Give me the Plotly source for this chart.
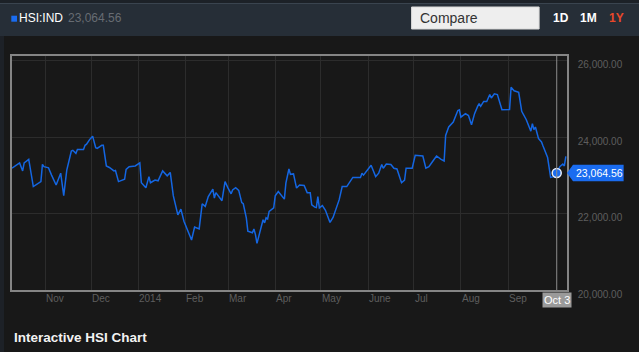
import plotly.graph_objects as go

# ---------------- data ----------------
dates = [
    "2013-10-10", "2013-10-13", "2013-10-15", "2013-10-17", "2013-10-18", "2013-10-21", "2013-10-22",
    "2013-10-24", "2013-10-29", "2013-10-30", "2013-10-31", "2013-11-03", "2013-11-05", "2013-11-08",
    "2013-11-11", "2013-11-13", "2013-11-15", "2013-11-18", "2013-11-19", "2013-11-21", "2013-11-22",
    "2013-11-26", "2013-11-27", "2013-11-28", "2013-11-30", "2013-12-02", "2013-12-04", "2013-12-05",
    "2013-12-08", "2013-12-09", "2013-12-11", "2013-12-13", "2013-12-16", "2013-12-17", "2013-12-19",
    "2013-12-20", "2013-12-23", "2013-12-24", "2013-12-26", "2013-12-30", "2014-01-02", "2014-01-03",
    "2014-01-06", "2014-01-08", "2014-01-09", "2014-01-12", "2014-01-14", "2014-01-17", "2014-01-20",
    "2014-01-22", "2014-01-24", "2014-01-27", "2014-01-29", "2014-01-31", "2014-02-05", "2014-02-07",
    "2014-02-10", "2014-02-12", "2014-02-14", "2014-02-16", "2014-02-19", "2014-02-20", "2014-02-21",
    "2014-02-25", "2014-02-27", "2014-03-01", "2014-03-03", "2014-03-04", "2014-03-06", "2014-03-08",
    "2014-03-10", "2014-03-11", "2014-03-13", "2014-03-14", "2014-03-17", "2014-03-18", "2014-03-19",
    "2014-03-20", "2014-03-22", "2014-03-24", "2014-03-25", "2014-03-26", "2014-03-27", "2014-03-28",
    "2014-03-31", "2014-04-01", "2014-04-03", "2014-04-07", "2014-04-08", "2014-04-10", "2014-04-11",
    "2014-04-13", "2014-04-15", "2014-04-17", "2014-04-20", "2014-04-22", "2014-04-24", "2014-04-25",
    "2014-04-27", "2014-04-28", "2014-04-29", "2014-04-30", "2014-05-02", "2014-05-04", "2014-05-07",
    "2014-05-09", "2014-05-13", "2014-05-15", "2014-05-18", "2014-05-20", "2014-05-22", "2014-05-27",
    "2014-05-28", "2014-05-29", "2014-06-03", "2014-06-06", "2014-06-08", "2014-06-10", "2014-06-11",
    "2014-06-13", "2014-06-16", "2014-06-18", "2014-06-20", "2014-06-23", "2014-06-25", "2014-06-26",
    "2014-06-30", "2014-07-02", "2014-07-07", "2014-07-09", "2014-07-11", "2014-07-14", "2014-07-16",
    "2014-07-19", "2014-07-21", "2014-07-22", "2014-07-24", "2014-07-27", "2014-07-30", "2014-07-31",
    "2014-08-01", "2014-08-04", "2014-08-06", "2014-08-08", "2014-08-10", "2014-08-12", "2014-08-13",
    "2014-08-14", "2014-08-16", "2014-08-18", "2014-08-20", "2014-08-21", "2014-08-23", "2014-08-25",
    "2014-08-28", "2014-09-02", "2014-09-03", "2014-09-05", "2014-09-08", "2014-09-10", "2014-09-13",
    "2014-09-16", "2014-09-17", "2014-09-18", "2014-09-19", "2014-09-21", "2014-09-23", "2014-09-24",
    "2014-09-27", "2014-09-29", "2014-10-01", "2014-10-03", "2014-10-05", "2014-10-07", "2014-10-08",
    "2014-10-09",
]
values = [
    23190, 23270, 23330, 23120, 23330, 23420, 23140,
    22710, 22840, 23290, 23230, 23200, 23010, 22750,
    23060, 22470, 23140, 23640, 23660, 23580, 23680,
    23680, 23790, 23820, 23940, 24030, 23730, 23710,
    23790, 23790, 23250, 23210, 23120, 23130, 22840,
    22860, 22900, 23160, 23230, 23250, 23330, 22810,
    22680, 22970, 22810, 22880, 22860, 23120, 22990,
    23080, 22470, 21970, 22120, 21800, 21310, 21650,
    21600, 22260, 22190, 22450, 22640, 22410, 22550,
    22340, 22840, 22670, 22520, 22620, 22680, 22610,
    22290, 22260, 21890, 21540, 21500, 21600, 21450,
    21220, 21540, 21840, 21760, 21890, 21860, 22060,
    22150, 22470, 22580, 22380, 22800, 23170, 23030,
    23040, 22670, 22750, 22740, 22550, 22550, 22230,
    22170, 22160, 22450, 22150, 22210, 22090, 21770,
    21900, 22360, 22710, 22710, 22840, 22950, 22950,
    23060, 23010, 23270, 22970, 23060, 23290, 23190,
    23300, 23290, 23190, 23170, 22810, 22880, 23190,
    23190, 23530, 23510, 23190, 23230, 23400, 23510,
    23420, 23380, 24050, 24270, 24400, 24700, 24720,
    24530, 24620, 24570, 24330, 24620, 24810, 24880,
    24810, 24940, 24940, 25120, 25030, 25140, 25120,
    24720, 24730, 25310, 25220, 25180, 24680, 24460,
    24160, 24360, 24200, 24270, 23970, 23880, 23770,
    23470, 22950, 22970, 23064.56, 23230, 23300, 23250,
    23500,
]

ticker = "HSI:IND"
last_date = "2014-10-03"
last_value = 23064.56
last_date_label = "Oct 3"

month_dates = ["2013-11-01", "2013-12-01", "2014-01-01", "2014-02-01", "2014-03-01", "2014-04-01",
               "2014-05-01", "2014-06-01", "2014-07-01", "2014-08-01", "2014-09-01"]
month_labels = ["Nov", "Dec", "2014", "Feb", "Mar", "Apr", "May", "June", "Jul", "Aug", "Sep"]
y_ticks = [20000, 22000, 24000, 26000]
range_buttons = ["1D", "1M", "1Y"]

# ---------------- layout helpers (pixel -> paper) ----------------
W, H = 639, 352
ML, MR, MT, MB = 10, 72, 56, 62
PW, PH = W - ML - MR, H - MT - MB


def px(X):
    return (X - ML) / PW


def py(Y):
    return (H - MB - Y) / PH


BG = "#181818"
BLUE = "#1466e2"
FONT = "Liberation Sans, Arial, Helvetica, sans-serif"

fig = go.Figure()

fig.add_trace(go.Scatter(
    x=dates, y=values, mode="lines",
    line=dict(color=BLUE, width=1.5),
    hoverinfo="skip", showlegend=False,
))

idx = dates.index(last_date)
fig.add_trace(go.Scatter(
    x=[dates[idx]], y=[values[idx]], mode="markers",
    marker=dict(size=9, color="#1a6cf0", line=dict(color="#e8eef8", width=1.5)),
    hoverinfo="skip", showlegend=False, cliponaxis=False,
))

shapes = [
    # header bar
    dict(type="rect", xref="paper", yref="paper", x0=px(-5), x1=px(W + 5), y0=py(36), y1=py(-5),
         fillcolor="#262e37", line=dict(width=0), layer="below"),
    dict(type="rect", xref="paper", yref="paper", x0=px(-5), x1=px(W + 5), y0=py(3), y1=py(-5),
         fillcolor="#1c2127", line=dict(width=0), layer="below"),
    dict(type="line", xref="paper", yref="paper", x0=px(-5), x1=px(W + 5), y0=py(3.5), y1=py(3.5),
         line=dict(color="#3a444f", width=1)),
    # left page edge strip
    dict(type="rect", xref="paper", yref="paper", x0=px(-5), x1=px(2), y0=py(H + 5), y1=py(36),
         fillcolor="#1d2127", line=dict(width=0), layer="below"),
    # ticker square
    dict(type="rect", xref="paper", yref="paper", x0=px(9.3), x1=px(15), y0=py(21.7), y1=py(15.7),
         fillcolor="#1a6cf0", line=dict(width=0)),
    # compare box
    dict(type="rect", xref="paper", yref="paper", x0=px(411), x1=px(539), y0=py(29), y1=py(7),
         fillcolor="#eeeeee", line=dict(color="#d8d8d8", width=1)),
    # crosshair at last date
    dict(type="line", xref="x", yref="paper", x0=last_date, x1=last_date, y0=0, y1=1,
         line=dict(color="#8c8c8c", width=1), layer="above"),
    # value flag (arrow + box) on right axis
    dict(type="path", xref="paper", yref="y", xsizemode="pixel", ysizemode="pixel",
         xanchor=1, yanchor=last_value,
         path="M 0,0 L 6,8.3 L 56.6,8.3 L 56.6,-8.3 L 6,-8.3 Z",
         fillcolor="#1a6cf0", line=dict(width=0)),
]

annotations = [
    dict(text=ticker, xref="paper", yref="paper", x=px(15.5), y=py(18.5), xanchor="left", yanchor="middle",
         showarrow=False, font=dict(family=FONT, size=12, color="#ffffff")),
    dict(text=f"{last_value:,.2f}", xref="paper", yref="paper", x=px(64), y=py(18.5), xanchor="left",
         yanchor="middle", showarrow=False, font=dict(family=FONT, size=12, color="#676c73")),
    dict(text="Compare", xref="paper", yref="paper", x=px(417.5), y=py(18), xanchor="left", yanchor="middle",
         showarrow=False, font=dict(family=FONT, size=14, color="#333333")),
    dict(text="Interactive HSI Chart", xref="paper", yref="paper", x=px(10), y=py(337.5), xanchor="left",
         yanchor="middle", showarrow=False, font=dict(family=FONT, size=13.5, color="#f2f2f2", weight="bold")),
    dict(text=f"{last_value:,.2f}", xref="paper", yref="y", x=1, y=last_value, xanchor="left",
         yanchor="middle", xshift=6.5, showarrow=False, font=dict(family=FONT, size=10.5, color="#ffffff")),
    dict(text=last_date_label, xref="x", yref="paper", x=last_date, y=py(300), xanchor="center",
         yanchor="middle", showarrow=False, bgcolor="#9a9a9a", borderpad=1,
         font=dict(family=FONT, size=11, color="#ffffff")),
]

btn_x = [551, 578.5, 607.5]
btn_c = ["#ffffff", "#ffffff", "#e8482a"]
for t, bx, bc in zip(range_buttons, btn_x, btn_c):
    annotations.append(dict(text=t, xref="paper", yref="paper", x=px(bx), y=py(18), xanchor="left",
                            yanchor="middle", showarrow=False,
                            font=dict(family=FONT, size=12, color=bc, weight="bold")))

for d, lab in zip(month_dates, month_labels):
    annotations.append(dict(text=lab, xref="x", yref="paper", x=d, y=py(298.5), xanchor="left",
                            yanchor="middle", showarrow=False, xshift=-1,
                            font=dict(family=FONT, size=10, color="#5e5e5e")))

fig.update_layout(
    width=W, height=H,
    margin=dict(l=ML, r=MR, t=MT, b=MB, pad=0),
    paper_bgcolor=BG, plot_bgcolor=BG,
    showlegend=False,
    shapes=shapes, annotations=annotations,
    xaxis=dict(
        type="date", range=["2013-10-10", "2014-10-09 18:00"],
        tickvals=month_dates, showticklabels=False, ticks="",
        showgrid=True, gridcolor="#2c2c2c", gridwidth=1,
        showline=True, linecolor="#858585", linewidth=1.5, mirror=True,
        zeroline=False, fixedrange=True,
    ),
    yaxis=dict(
        range=[20000, 26130], side="right",
        tickvals=y_ticks, tickformat=",.2f", ticks="",
        ticklabelstandoff=7, ticklabelshift=4,
        tickfont=dict(family=FONT, size=10, color="#5e5e5e"),
        showgrid=True, gridcolor="#2c2c2c", gridwidth=1,
        showline=True, linecolor="#858585", linewidth=1.5, mirror=True,
        zeroline=False, fixedrange=True,
    ),
)

fig.write_html("out.html")
